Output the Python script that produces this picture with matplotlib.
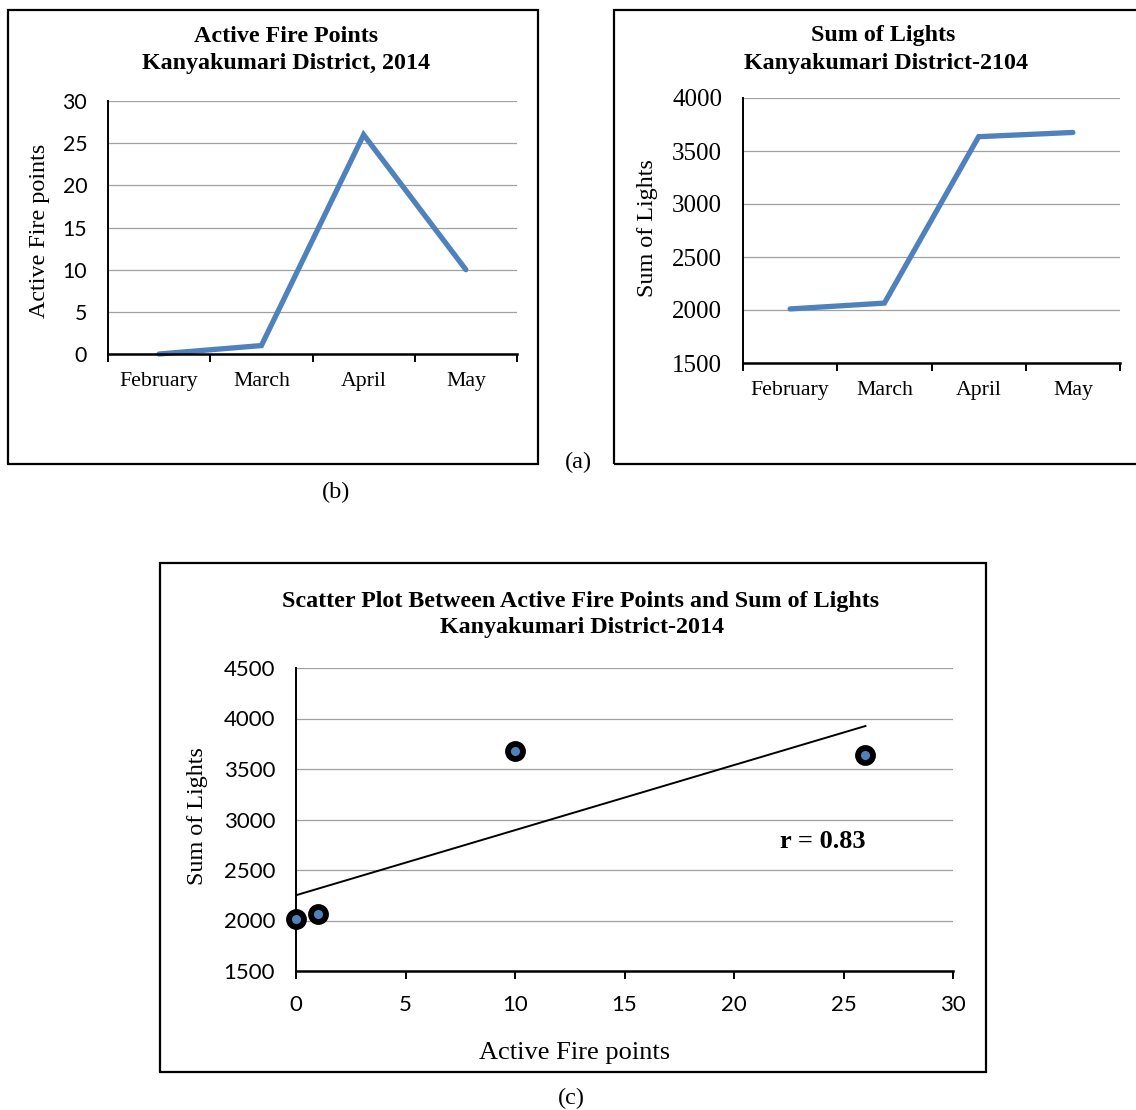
import numpy as np
import matplotlib
matplotlib.use("Agg")
import matplotlib.pyplot as plt
from matplotlib.patches import Rectangle

# ---- data ----
months = ["February", "March", "April", "May"]
fire_points = [0, 1, 26, 10]
sum_lights = [2010, 2065, 3635, 3675]
fire_yticks = [0, 5, 10, 15, 20, 25, 30]
lights_yticks = [1500, 2000, 2500, 3000, 3500, 4000]
scatter_xticks = [0, 5, 10, 15, 20, 25, 30]
scatter_yticks = [1500, 2000, 2500, 3000, 3500, 4000, 4500]
r_text = "r = 0.83"

W, H = 1136, 1110
SERIF = "Liberation Serif"
SANS = "Lato"
BLUE = "#4f81bd"
GRID = "#a0a0a0"
TITLE_FS = 17.3

fig = plt.figure(figsize=(W / 100, H / 100), dpi=100)


def ax_px(x0, y0, x1, y1):
    return fig.add_axes([x0 / W, 1 - y1 / H, (x1 - x0) / W, (y1 - y0) / H])


def frame(x0, y0, x1, y1):
    r = Rectangle((x0 / W, 1 - y1 / H), (x1 - x0) / W, (y1 - y0) / H,
                  transform=fig.transFigure, fill=False, ec="black", lw=1.6)
    fig.patches.append(r)


def ftext(x, y, s, **kw):
    fig.text(x / W, 1 - y / H, s, ha="center", va="center", **kw)


def style_axes(ax, yticks, ylo, yhi, ytick_family, ytick_size):
    ax.set_ylim(ylo, yhi)
    ax.set_yticks(yticks)
    ax.yaxis.grid(True, color=GRID, lw=0.9)
    ax.set_axisbelow(True)
    for s in ["top", "right"]:
        ax.spines[s].set_visible(False)
    ax.spines["left"].set_linewidth(1.4)
    ax.spines["bottom"].set_linewidth(1.8)
    ax.tick_params(axis="y", length=0, pad=15)
    for t in ax.get_yticklabels():
        t.set_fontfamily(ytick_family)
        t.set_fontsize(ytick_size)


def category_x(ax):
    n = len(months)
    ax.set_xlim(0, n)
    ax.set_xticks(np.arange(n + 1))
    ax.set_xticklabels([""] * (n + 1))
    ax.set_xticks(np.arange(n) + 0.5, minor=True)
    ax.set_xticklabels(months, minor=True, fontfamily=SERIF, fontsize=15.7)
    ax.tick_params(axis="x", which="major", direction="out", length=6, width=1.4)
    ax.tick_params(axis="x", which="minor", length=0, pad=13)


# ---- frames ----
frame(8, 10, 538, 464)
frame(614, 10, 1150, 464)
frame(160, 563, 986, 1072)

# ---- left chart: active fire points ----
ax1 = ax_px(108, 101, 517, 354)
xpos = np.arange(len(months)) + 0.5
ax1.plot(xpos, fire_points, color=BLUE, lw=3.8, solid_capstyle="round",
         solid_joinstyle="miter", clip_on=False)
style_axes(ax1, fire_yticks, 0, 30, SANS, 15.3)
category_x(ax1)
ftext(286, 36, "Active Fire Points", fontfamily=SERIF, fontsize=TITLE_FS, fontweight="bold")
ftext(286, 63, "Kanyakumari District, 2014", fontfamily=SERIF, fontsize=TITLE_FS, fontweight="bold")
ftext(40, 231, "Active Fire points", fontfamily=SERIF, fontsize=17.4, rotation=90)

# ---- right chart: sum of lights ----
ax2 = ax_px(743, 98, 1120, 363)
ax2.plot(xpos, sum_lights, color=BLUE, lw=3.8, solid_capstyle="round",
         solid_joinstyle="miter", clip_on=False)
style_axes(ax2, lights_yticks, 1500, 4000, SERIF, 18)
category_x(ax2)
ftext(883, 35, "Sum of Lights", fontfamily=SERIF, fontsize=TITLE_FS, fontweight="bold")
ftext(886, 63, "Kanyakumari District-2104", fontfamily=SERIF, fontsize=TITLE_FS, fontweight="bold")
ftext(648, 228, "Sum of Lights", fontfamily=SERIF, fontsize=17.4, rotation=90)

# ---- scatter ----
ax3 = ax_px(296, 668, 953, 971)
ax3.set_xlim(0, 30)
ax3.set_xticks(scatter_xticks)
style_axes(ax3, scatter_yticks, 1500, 4500, SANS, 16)
ax3.tick_params(axis="x", direction="out", length=6, width=1.4, pad=11, labelsize=16)
for t in ax3.get_xticklabels():
    t.set_fontfamily(SANS)
xs = np.array(fire_points, dtype=float)
ys = np.array(sum_lights, dtype=float)
slope, intercept = np.polyfit(xs, ys, 1)
xl = np.array([xs.min(), xs.max()])
ax3.plot(xl, slope * xl + intercept, color="black", lw=1.4, zorder=3)
ax3.plot(xs, ys, linestyle="none", marker="o", ms=10.8, mew=4.2,
         mfc=BLUE, mec="black", clip_on=False, zorder=4)
ax3.text(0.802, 0.429, r_text, transform=ax3.transAxes, ha="center", va="center",
         fontfamily=SERIF, fontsize=19, fontweight="bold")
ftext(581, 601, "Scatter Plot Between Active Fire Points and Sum of Lights",
      fontfamily=SERIF, fontsize=TITLE_FS, fontweight="bold")
ftext(582, 628, "Kanyakumari District-2014", fontfamily=SERIF, fontsize=TITLE_FS, fontweight="bold")
ftext(198, 816, "Sum of Lights", fontfamily=SERIF, fontsize=17.4, rotation=90)
ftext(575, 1053, "Active Fire points", fontfamily=SERIF, fontsize=19)

# ---- panel labels ----
ftext(578, 462, "(a)", fontfamily=SERIF, fontsize=17.5)
ftext(336, 492, "(b)", fontfamily=SERIF, fontsize=17.5)
ftext(571, 1098, "(c)", fontfamily=SERIF, fontsize=17.5)

fig.savefig("out.png", dpi=100, facecolor="white")
